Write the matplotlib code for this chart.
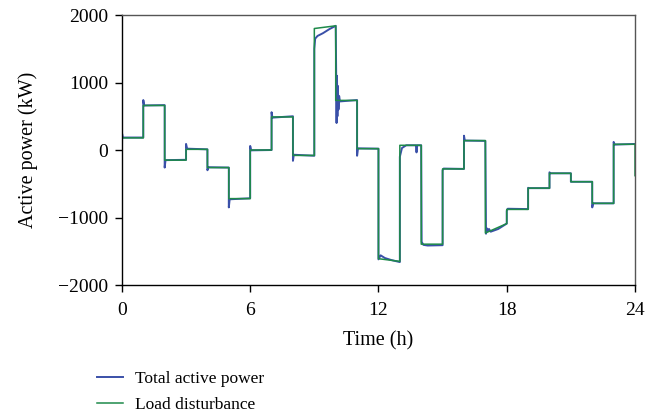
import matplotlib
matplotlib.use("Agg")
import matplotlib.pyplot as plt

plt.rcParams['font.family'] = ['Liberation Serif', 'DejaVu Serif']

# Load disturbance: value at start and end of each hour
hours = list(range(24))
load_start = [180, 660, -150, 10, -260, -720, 0, 490, -80, 1800, 735, 20,
              -1610, 70, -1395, -280, 140, -1230, -880, -565, -345, -470, -790, 85]
load_end = [180, 660, -150, 10, -260, -720, 0, 490, -80, 1840, 735, 20,
            -1650, 70, -1395, -280, 140, -1090, -880, -565, -345, -470, -790, 85]
load_final = -380

# Total active power (incl. transients)
power_t = [0, 0.01, 0.04, 1.0,
           1.0, 1.04, 2.0,
           2.0, 2.04, 3.0,
           3.0, 3.05, 4.0,
           4.0, 4.04, 5.0,
           5.0, 5.04, 6.0,
           6.0, 6.04, 7.0,
           7.0, 7.04, 8.0,
           8.0, 8.04, 9.0,
           9.0, 9.04, 9.15, 9.4, 9.7, 10.0,
           10.0, 10.02, 10.04, 10.06, 10.08, 10.1, 10.13, 10.16, 10.2, 11.0,
           11.0, 11.04, 12.0,
           12.0, 12.1, 12.3, 12.6, 13.0,
           13.0, 13.1, 13.3, 13.75, 13.78, 13.81, 14.0,
           14.02, 14.1, 14.3, 15.0,
           15.0, 15.05, 16.0,
           16.0, 16.04, 17.0,
           17.03, 17.07, 17.12, 17.17, 17.25, 17.6, 18.0,
           18.0, 18.05, 19.0,
           19.0, 19.04, 20.0,
           20.0, 20.04, 21.0,
           21.0, 21.04, 22.0,
           22.0, 22.04, 23.0,
           23.0, 23.05, 24.0]
power_p = [-110, 240, 185, 185,
           740, 660, 665,
           -260, -150, -145,
           90, 20, 10,
           -300, -255, -260,
           -850, -730, -715,
           60, -5, 0,
           560, 480, 500,
           -160, -70, -85,
           1500, 1650, 1690, 1730, 1790, 1840,
           1840, 1200, 400, 1100, 500, 950, 600, 800, 720, 740,
           -85, 25, 20,
           -1620, -1560, -1600, -1630, -1660,
           -100, 30, 70, 70, -35, 70, 70,
           -1360, -1405, -1415, -1410,
           -300, -275, -280,
           212, 140, 135,
           -1240, -1160, -1200, -1170, -1210, -1170, -1090,
           -900, -870, -875,
           -560, -565, -565,
           -330, -345, -345,
           -470, -470, -470,
           -850, -790, -790,
           120, 80, 90]

# build the step line for the load disturbance
load_t, load_p = [], []
for h, s, e in zip(hours, load_start, load_end):
    load_t += [h, h + 1]
    load_p += [s, e]
load_t.append(24)
load_p.append(load_final)

fig = plt.figure(figsize=(6.59, 4.17), dpi=100)
ax = fig.add_axes([0.185, 0.3165, 0.7786, 0.6475])

ax.plot(power_t, power_p, color='#3a50a8', lw=1.4, label='Total active power')
ax.plot(load_t, load_p, color='#1e8a4a', lw=1.1, label='Load disturbance')

ax.set_xlim(0, 24)
ax.set_ylim(-2000, 2000)
ax.set_xticks([0, 6, 12, 18, 24])
ax.set_yticks([-2000, -1000, 0, 1000, 2000])
ax.tick_params(direction='out', length=5, labelsize=14, width=1)
ax.tick_params(axis='x', pad=7)
ax.tick_params(axis='y', pad=5)
ax.set_xlabel('Time (h)', fontsize=14.5, labelpad=9)
ax.set_ylabel('Active power (kW)', fontsize=14.5, labelpad=14)
for sp in ax.spines.values():
    sp.set_linewidth(1)
ax.spines['top'].set_color('#555555')
ax.spines['right'].set_color('#555555')

fig.legend(loc='upper left', bbox_to_anchor=(0.147, 0.11), frameon=False,
           fontsize=12.5, handlelength=1.5, handletextpad=0.7,
           labelspacing=0.55, borderpad=0, borderaxespad=0)

fig.savefig('out.png', dpi=100)
